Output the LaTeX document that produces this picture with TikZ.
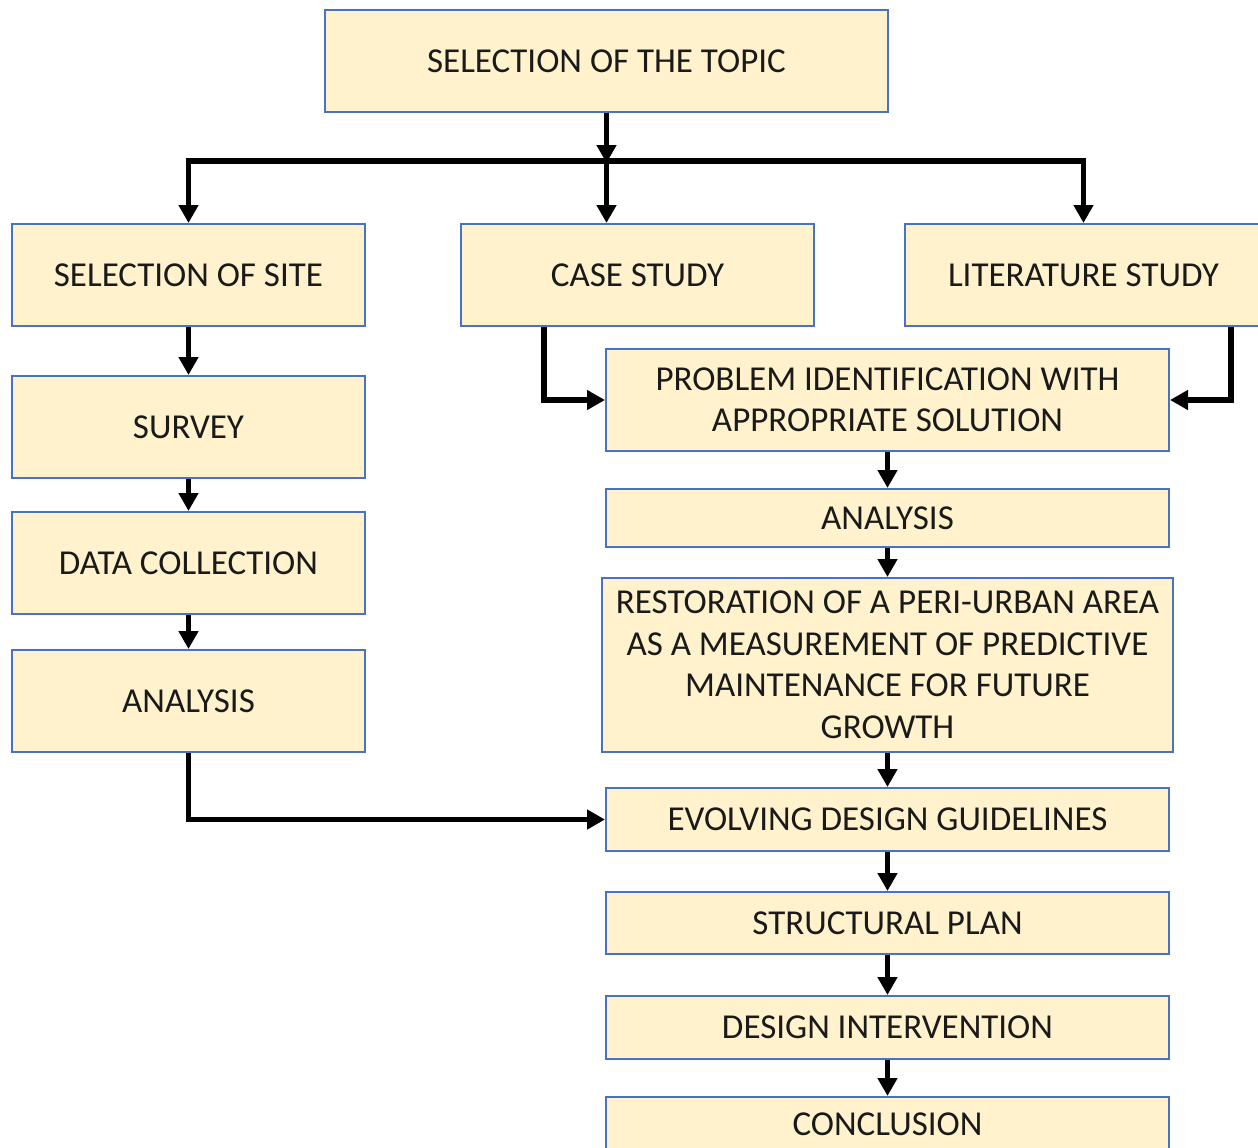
\documentclass[tikz,border=0pt]{standalone}
\usepackage{fontspec}
\setmainfont{Carlito}
\usetikzlibrary{arrows.meta}
\definecolor{boxfill}{HTML}{FFF2CC}
\definecolor{boxline}{HTML}{4A72C0}
\definecolor{txt}{HTML}{1A1A1A}
\begin{document}
\begin{tikzpicture}[x=1pt,y=-1pt,
  box/.style={draw=boxline, fill=boxfill, line width=2pt, inner sep=0pt,
    align=center, text=txt, font=\fontsize{35}{41.5}\selectfont},
  link/.style={line width=5.5pt, draw=black},
  arr/.style={link, -{Triangle[length=18pt,width=19pt]}}]
\useasboundingbox (0,0) rectangle (1258,1148);
\node[box, minimum width=563pt, minimum height=102pt] (topic) at (606.5,61) {SELECTION OF THE TOPIC};
\node[box, minimum width=353pt, minimum height=102pt] (site) at (188.5,275) {SELECTION OF SITE};
\node[box, minimum width=353pt, minimum height=102pt] (case) at (637.5,275) {CASE STUDY};
\node[box, minimum width=357pt, minimum height=102pt] (lit) at (1083.5,275) {LITERATURE STUDY};
\node[box, minimum width=353pt, minimum height=102pt] (survey) at (188.5,427) {SURVEY};
\node[box, minimum width=353pt, minimum height=102pt] (data) at (188.5,563) {DATA COLLECTION};
\node[box, minimum width=353pt, minimum height=102pt] (anaL) at (188.5,701) {ANALYSIS};
\node[box, minimum width=563pt, minimum height=102pt] (prob) at (887.5,400) {PROBLEM IDENTIFICATION WITH\\APPROPRIATE SOLUTION};
\node[box, minimum width=563pt, minimum height=58pt] (anaR) at (887.5,518) {ANALYSIS};
\node[box, minimum width=571pt, minimum height=174pt] (rest) at (887.5,665) {RESTORATION OF A PERI-URBAN AREA\\AS A MEASUREMENT OF PREDICTIVE\\MAINTENANCE FOR FUTURE\\GROWTH};
\node[box, minimum width=563pt, minimum height=63pt] (evolve) at (887.5,819.5) {EVOLVING DESIGN GUIDELINES};
\node[box, minimum width=563pt, minimum height=62pt] (struct) at (887.5,923) {STRUCTURAL PLAN};
\node[box, minimum width=563pt, minimum height=63pt] (design) at (887.5,1027.5) {DESIGN INTERVENTION};
\node[box, minimum width=563pt, minimum height=55pt] (concl) at (887.5,1124.5) {CONCLUSION};
% bus
\coordinate (busM) at (606.5,161);
\coordinate (busL) at (site.north |- busM);
\coordinate (busR) at (lit.north |- busM);
\draw[arr] (topic.south) -- ([yshift=-2pt]busM);
\draw[link] ([xshift=-2.75pt]busL) -- ([xshift=2.75pt]busR);
\draw[arr] (busL) -- (site.north);
\draw[arr] (busM) -- (busM |- case.north);
\draw[arr] (busR) -- (lit.north);
% left column
\draw[arr] (site) -- (survey);
\draw[arr] (survey) -- (data);
\draw[arr] (data) -- (anaL);
\draw[arr] (anaL.south) |- (evolve.west);
% right column
\draw[arr] ([xshift=84pt]case.south west) |- (prob.west);
\draw[arr] ([xshift=-32pt]lit.south east) |- (prob.east);
\draw[arr] (prob) -- (anaR);
\draw[arr] (anaR) -- (rest);
\draw[arr] (rest) -- (evolve);
\draw[arr] (evolve) -- (struct);
\draw[arr] (struct) -- (design);
\draw[arr] (design) -- (concl);
\end{tikzpicture}
\end{document}
